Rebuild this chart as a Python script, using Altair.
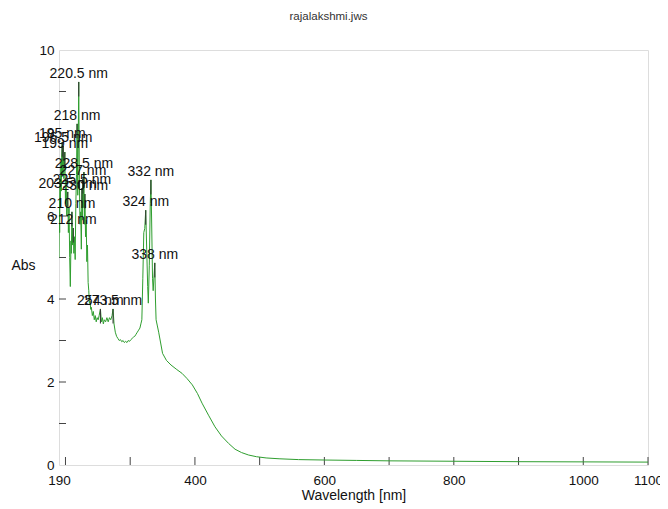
import altair as alt
import pandas as pd

# ---- spectrum data (wavelength nm, absorbance) ----
wavelength = [
    190.0, 190.5, 191.0, 191.5, 192.0, 193.0, 193.5, 194.0, 195.0, 195.5,
    196.5, 197.5, 198.0, 199.0, 200.0, 201.0, 202.0, 203.5, 204.5, 205.5,
    206.5, 207.5, 208.5, 209.0, 210.0, 211.0, 212.0, 213.0, 214.0, 215.0,
    216.0, 217.0, 218.0, 219.0, 219.5, 220.5, 221.5, 222.5, 223.5, 224.5,
    225.5, 226.0, 227.0, 227.5, 228.5, 229.2, 230.0, 231.0, 232.0, 233.0,
    234.0, 235.0, 236.0, 237.0, 238.0, 239.0, 240.0, 241.5, 243.0, 244.5,
    246.0, 247.5, 249.0, 250.5, 252.0, 254.0, 255.5, 257.0, 258.5, 260.0,
    262.0, 264.0, 266.0, 268.0, 270.0, 272.0, 273.5, 275.0, 277.0, 279.0,
    281.0, 283.0, 285.0, 287.0, 289.0, 291.0, 293.0, 295.0, 297.0, 299.0,
    301.0, 303.0, 305.0, 307.0, 309.0, 311.0, 313.0, 315.0, 316.5, 318.0,
    319.5, 321.0, 322.5, 324.0, 325.5, 327.0, 328.0, 329.5, 331.0, 332.0,
    333.0, 334.5, 335.5, 338.0, 339.0, 340.0, 342.0, 344.0, 350.0, 356.0,
    363.0, 372.0, 380.0, 388.0, 396.0, 404.0, 411.0, 421.0, 431.0, 441.0,
    452.0, 462.0, 472.0, 483.0, 495.0, 510.0, 530.0, 560.0, 600.0, 650.0,
    700.0, 800.0, 900.0, 1000.0, 1100.0,
]
absorbance = [
    5.0, 6.4, 5.6, 6.9, 6.2, 7.3, 6.6, 7.4, 7.78, 7.0,
    7.69, 6.9, 7.2, 7.54, 6.3, 6.9, 6.0, 6.58, 5.6, 6.2,
    5.0, 4.3, 5.4, 5.1, 6.10, 5.3, 5.71, 5.1, 5.5, 4.95,
    6.3, 7.0, 8.22, 6.5, 7.4, 9.23, 6.8, 5.8, 6.1, 5.2,
    6.67, 5.9, 6.89, 6.2, 7.06, 5.8, 6.53, 5.5, 5.9, 4.9,
    5.3, 4.4, 4.2, 3.9, 3.95, 3.75, 3.8, 3.6, 3.7, 3.5,
    3.6, 3.45, 3.55, 3.5, 3.6, 3.76, 3.45, 3.55, 3.4, 3.5,
    3.45, 3.55, 3.45, 3.55, 3.5, 3.6, 3.76, 3.4, 3.2, 3.1,
    3.05, 3.0, 3.02, 2.97, 3.0, 2.95, 2.98, 2.95, 3.0, 2.98,
    3.02, 3.05, 3.08, 3.1, 3.15, 3.2, 3.25, 3.3, 3.4, 3.5,
    4.5, 5.6, 5.7, 6.14, 5.2, 4.3, 3.9, 4.8, 6.3, 6.87,
    6.0, 4.5, 4.2, 4.87, 4.0, 3.5, 3.35, 3.2, 2.69, 2.52,
    2.41, 2.3, 2.21, 2.08, 1.93, 1.72, 1.49, 1.2, 0.92, 0.7,
    0.52, 0.38, 0.30, 0.24, 0.20, 0.17, 0.15, 0.13, 0.12, 0.11,
    0.10, 0.09, 0.08, 0.075, 0.07,
]

# ---- labelled peaks ----
peak_nm = [195.0, 196.5, 199.0, 203.5, 210.0, 212.0, 218.0, 220.5, 225.5,
           227.0, 228.5, 230.0, 254.0, 273.5, 324.0, 332.0, 338.0]
peak_abs = [7.78, 7.69, 7.54, 6.58, 6.10, 5.71, 8.22, 9.23, 6.67,
            6.89, 7.06, 6.53, 3.76, 3.76, 6.14, 6.87, 4.87]
peak_text = ["195 nm", "196.5 nm", "199 nm", "203.5 nm", "210 nm", "212 nm",
             "218 nm", "220.5 nm", "225.5 nm", "227 nm", "228.5 nm", "230 nm",
             "254 nm", "273.5 nm", "324 nm", "332 nm", "338 nm"]

# ---- axis ticks / labels ----
x_label_values = [190, 400, 600, 800, 1000, 1100]
x_tick_values = [200, 300, 400, 500, 600, 700, 800, 900, 1000, 1100]
y_label_values = [0, 2, 4, 6, 8, 10]
y_tick_values = [1, 2, 3, 4, 5, 6, 7, 8, 9]

FONT = "Liberation Sans"
W, H = 589, 415

spec = pd.DataFrame({"nm": wavelength, "abs": absorbance})
peaks = pd.DataFrame({"nm": peak_nm, "abs": peak_abs, "label": peak_text})
peaks["abs_lo"] = peaks["abs"] - 0.35
xt = pd.DataFrame({"t": x_tick_values})
yt = pd.DataFrame({"t": y_tick_values})

xscale = alt.Scale(domain=[190, 1100], nice=False, zero=False)
yscale = alt.Scale(domain=[0, 10], nice=False)

xaxis = alt.Axis(values=x_label_values, ticks=False, domain=False, grid=False,
                 format="d",
                 labelFont=FONT, labelFontSize=13.5, labelColor="#111",
                 labelPadding=8, labelFlush=False,
                 title="Wavelength [nm]", titleFont=FONT, titleFontSize=14,
                 titleFontWeight="normal", titleColor="#111",
                 titleY=30, titleBaseline="middle")
yaxis = alt.Axis(values=y_label_values, ticks=False, domain=False, grid=False,
                 labelFont=FONT, labelFontSize=13.5, labelColor="#111",
                 labelPadding=5, labelFlush=False,
                 title="Abs", titleFont=FONT, titleFontSize=14,
                 titleFontWeight="normal", titleColor="#111", titleAngle=0,
                 titleX=-36, titleY=215, titleAlign="center",
                 titleBaseline="middle")

line = alt.Chart(spec).mark_line(color="#2f9e2f", strokeWidth=1, clip=True).encode(
    x=alt.X("nm:Q", scale=xscale, axis=xaxis),
    y=alt.Y("abs:Q", scale=yscale, axis=yaxis),
    order="nm:Q",
)

markers = alt.Chart(peaks).mark_rule(color="#333", strokeWidth=1).encode(
    x=alt.X("nm:Q", scale=xscale),
    y=alt.Y("abs:Q", scale=yscale),
    y2="abs_lo:Q",
)

labels = alt.Chart(peaks).mark_text(
    font=FONT, fontSize=14, color="#111", baseline="bottom", align="center", dy=-1
).encode(
    x=alt.X("nm:Q", scale=xscale),
    y=alt.Y("abs:Q", scale=yscale),
    text="label:N",
)

xticks = alt.Chart(xt).mark_rule(color="#444", strokeWidth=1).encode(
    x=alt.X("t:Q", scale=xscale),
    y=alt.value(H),
    y2=alt.value(H - 8),
)
yticks = alt.Chart(yt).mark_rule(color="#444", strokeWidth=1).encode(
    y=alt.Y("t:Q", scale=yscale),
    x=alt.value(0),
    x2=alt.value(7),
)

chart = alt.layer(xticks, yticks, line, markers, labels).properties(
    width=W,
    height=H,
    title=alt.TitleParams("rajalakshmi.jws", font=FONT, fontSize=11.5,
                          fontWeight="normal", color="#333", anchor="middle",
                          dx=-25, offset=21),
    autosize=alt.AutoSizeParams(type="none"),
    padding={"left": 51, "top": 42, "right": 12, "bottom": 40},
).configure_view(stroke="#444", strokeWidth=1).configure(background="white")

chart.save("out.html", embed_options={"renderer": "svg", "actions": False})
